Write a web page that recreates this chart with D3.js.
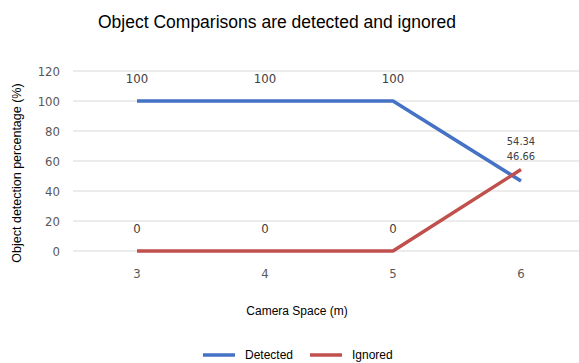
<!DOCTYPE html>
<html><head><meta charset="utf-8">
<script src="https://cdn.jsdelivr.net/npm/d3@7/dist/d3.min.js"></script>
<style>body{margin:0;background:#fff}svg{display:block}</style>
</head><body><svg id="c" width="579" height="363"></svg>
<script>
const categories = ["3", "4", "5", "6"];
const detected = [100, 100, 100, 46.66];
const ignored = [0, 0, 0, 54.34];
const yTicks = [0, 20, 40, 60, 80, 100, 120];
const seriesNames = ["Detected", "Ignored"];
const colors = ["#4472c4", "#c0504d"];

const svg = d3.select("#c");
const narrow = "'Liberation Sans Narrow','DejaVu Sans Condensed','Liberation Sans',Arial,sans-serif";
const sans = "'Liberation Sans',Arial,Helvetica,sans-serif";

const x = d3.scalePoint().domain(categories).range([73, 585]).padding(0.5);
const y = d3.scaleLinear().domain([0, 120]).range([251, 71]);

svg.append("g").selectAll("line").data(yTicks).join("line")
  .attr("x1", 73).attr("x2", 579)
  .attr("y1", d => y(d)).attr("y2", d => y(d))
  .attr("stroke", "#d9d9d9").attr("stroke-width", 1.2);

svg.append("g").selectAll("text").data(yTicks).join("text")
  .attr("x", 60).attr("y", d => y(d)).attr("dy", "0.35em")
  .attr("text-anchor", "end").attr("fill", "#595959")
  .style("font-family", narrow).style("font-size", "13px").text(d => d);

svg.append("g").selectAll("text").data(categories).join("text")
  .attr("x", d => x(d)).attr("y", 278)
  .attr("text-anchor", "middle").attr("fill", "#595959")
  .style("font-family", narrow).style("font-size", "13px").text(d => d);

const line = d3.line().x((d, i) => x(categories[i])).y(d => y(d));
const series = [detected, ignored];
series.forEach((s, k) => {
  svg.append("path").datum(s).attr("d", line)
    .attr("fill", "none").attr("stroke", colors[k]).attr("stroke-width", 3.5)
    .attr("stroke-linejoin", "round");
});

series.forEach((s, k) => {
  svg.append("g").selectAll("text").data(s).join("text")
    .attr("x", (d, i) => x(categories[i]))
    .attr("y", (d, i) => {
      const other = series[1 - k][i];
      if (Math.abs(other - d) < 20) return d > other ? 145 : 160;
      return y(d) - 18;
    })
    .attr("text-anchor", "middle").attr("fill", "#404040")
    .style("font-family", narrow)
    .style("font-size", (d, i) => Math.abs(series[1 - k][i] - d) < 20 ? "11px" : "13px")
    .text(d => d);
});

svg.append("text").attr("x", 277).attr("y", 28).attr("text-anchor", "middle")
  .style("font-family", sans).style("font-size", "17.5px").attr("fill", "#000")
  .text("Object Comparisons are detected and ignored");

svg.append("text").attr("x", 297).attr("y", 315).attr("text-anchor", "middle")
  .style("font-family", sans).style("font-size", "12px").text("Camera Space (m)");
svg.append("text").attr("transform", "translate(21,173) rotate(-90)").attr("text-anchor", "middle")
  .style("font-family", sans).style("font-size", "12.5px").text("Object detection percentage (%)");

const legX = [203, 310];
seriesNames.forEach((n, k) => {
  svg.append("line").attr("x1", legX[k]).attr("x2", legX[k] + 32)
    .attr("y1", 355).attr("y2", 355).attr("stroke", colors[k]).attr("stroke-width", 3.5);
  svg.append("text").attr("x", legX[k] + 42).attr("y", 359)
    .style("font-family", sans).style("font-size", "12px").text(n);
});
</script></body></html>
